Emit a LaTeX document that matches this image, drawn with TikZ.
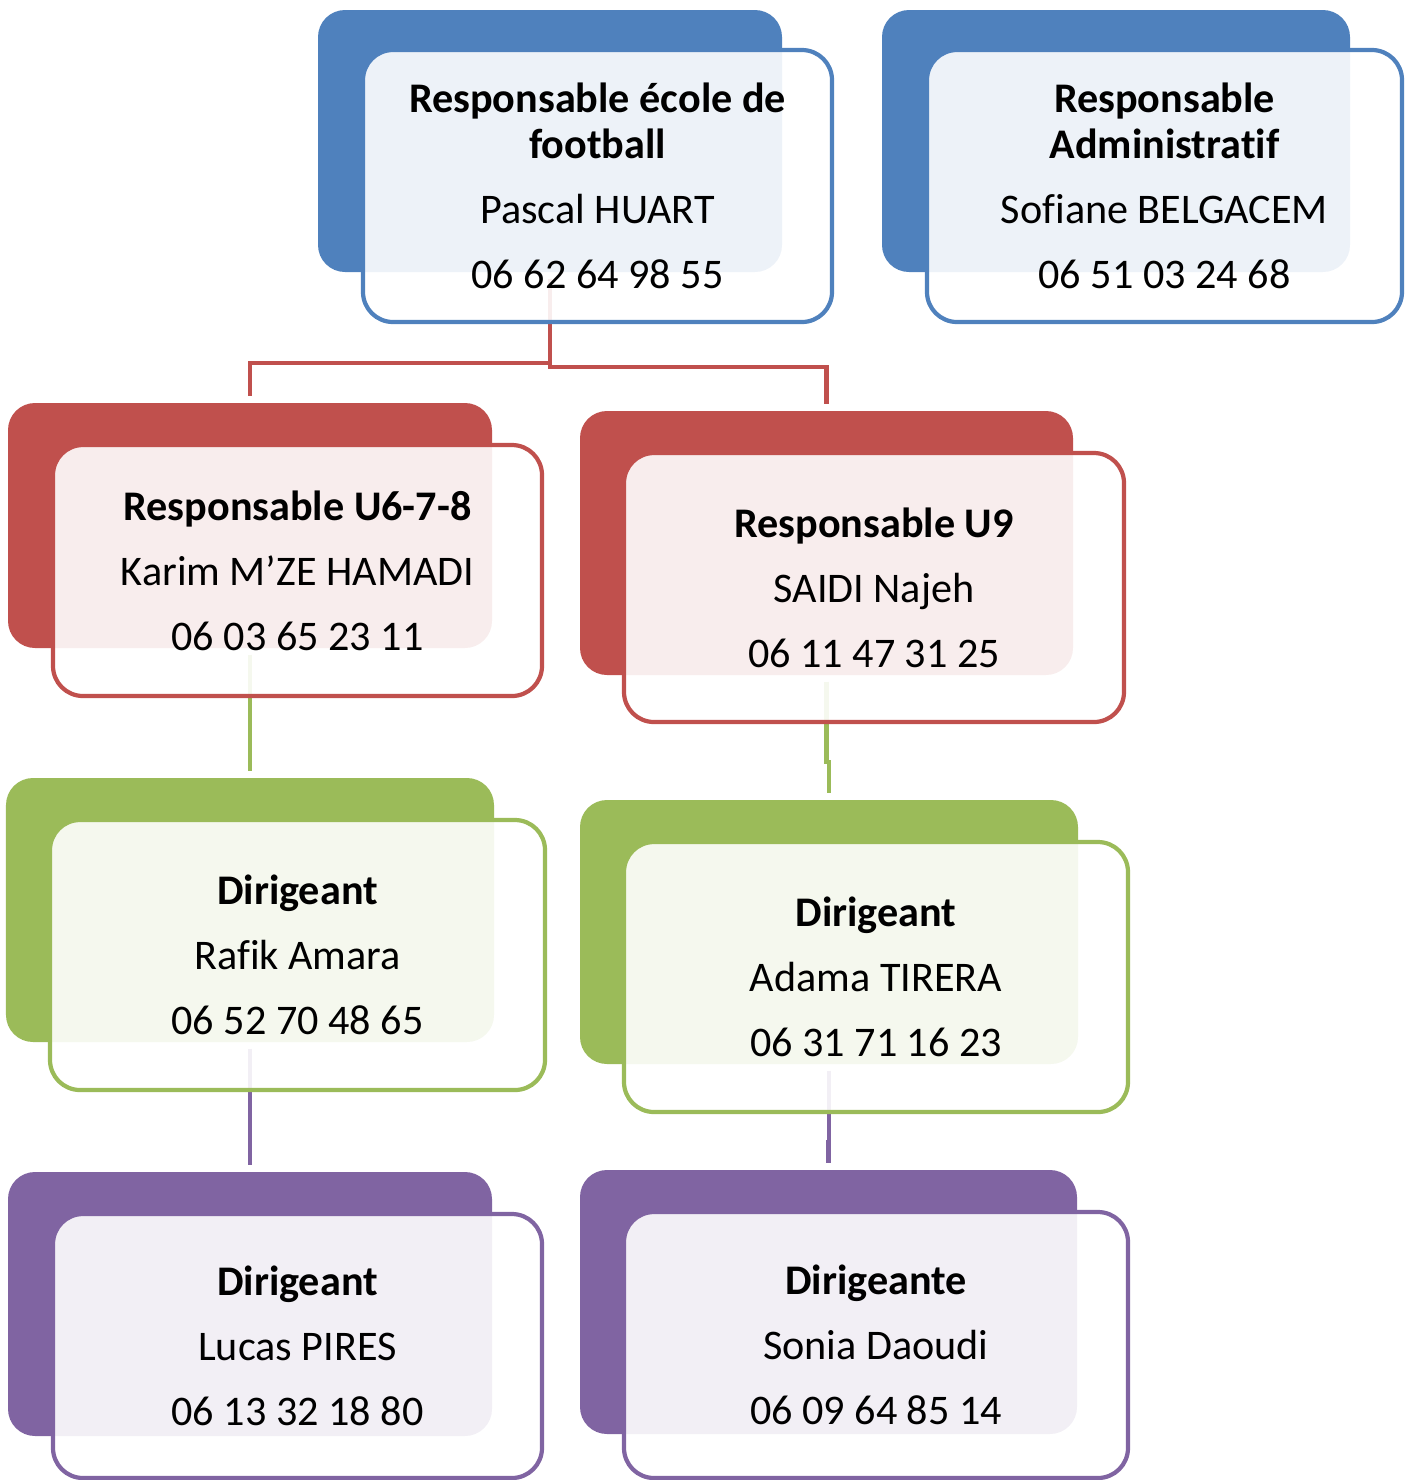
\documentclass[tikz,border=0pt]{standalone}
\usepackage{fontspec}
\setmainfont[Ligatures={TeX,CommonOff}]{Carlito}
\usetikzlibrary{calc}
\definecolor{blueA}{HTML}{4F81BD}
\definecolor{redA}{HTML}{C0504D}
\definecolor{greenA}{HTML}{9BBB59}
\definecolor{purpleA}{HTML}{8064A2}
\pgfdeclarelayer{bg}
\pgfsetlayers{bg,main}
\tikzset{
  backbox/.style={rectangle, rounded corners=0.27cm, fill=#1, inner sep=0pt},
  frontbox/.style={rectangle, rounded corners=0.3cm, draw=#1, line width=1.2pt,
    fill=white, fill opacity=0.9, text opacity=1, align=center, inner sep=0pt,
    font=\fontsize{12}{13}\selectfont},
  link/.style={draw=#1, line width=1.2pt, shorten <=0.06cm, shorten >=0.06cm}
}
\newcommand{\gap}{\\[5.5pt]}
\begin{document}
\begin{tikzpicture}
    \useasboundingbox (0,0) rectangle (14.11,-14.80);

    % back boxes
    \node[backbox=blueA, minimum width=4.64cm, minimum height=2.62cm] (ecoleB) at (5.50,-1.41) {};
    \node[backbox=blueA, minimum width=4.68cm, minimum height=2.62cm] (adminB) at (11.16,-1.41) {};
    \node[backbox=redA, minimum width=4.84cm, minimum height=2.45cm] (u678B) at (2.50,-5.255) {};
    \node[backbox=redA, minimum width=4.93cm, minimum height=2.64cm] (u9B) at (8.265,-5.43) {};
    \node[backbox=greenA, minimum width=4.88cm, minimum height=2.64cm] (rafikB) at (2.50,-9.10) {};
    \node[backbox=greenA, minimum width=4.98cm, minimum height=2.64cm] (adamaB) at (8.29,-9.32) {};
    \node[backbox=purpleA, minimum width=4.84cm, minimum height=2.64cm] (lucasB) at (2.50,-13.04) {};
    \node[backbox=purpleA, minimum width=4.97cm, minimum height=2.64cm] (soniaB) at (8.285,-13.02) {};

    % front boxes with the texts
    \node[frontbox=blueA, minimum width=4.69cm, minimum height=2.72cm] (ecole) at (5.975,-1.86)
      {\textbf{Responsable école de}\\\textbf{football}\gap Pascal HUART\gap 06 62 64 98 55};
    \node[frontbox=blueA, minimum width=4.75cm, minimum height=2.72cm] (admin) at (11.645,-1.86)
      {\textbf{Responsable}\\\textbf{Administratif}\gap Sofiane BELGACEM\gap 06 51 03 24 68};
    \node[frontbox=redA, minimum width=4.89cm, minimum height=2.51cm] (u678) at (2.975,-5.705)
      {\textbf{Responsable U6-7-8}\gap Karim M’ZE HAMADI\gap 06 03 65 23 11};
    \node[frontbox=redA, minimum width=5.00cm, minimum height=2.69cm] (u9) at (8.74,-5.875)
      {\textbf{Responsable U9}\gap SAIDI Najeh\gap 06 11 47 31 25};
    \node[frontbox=greenA, minimum width=4.95cm, minimum height=2.70cm] (rafik) at (2.975,-9.55)
      {\textbf{Dirigeant}\gap Rafik Amara\gap 06 52 70 48 65};
    \node[frontbox=greenA, minimum width=5.04cm, minimum height=2.70cm] (adama) at (8.76,-9.77)
      {\textbf{Dirigeant}\gap Adama TIRERA\gap 06 31 71 16 23};
    \node[frontbox=purpleA, minimum width=4.89cm, minimum height=2.64cm] (lucas) at (2.975,-13.46)
      {\textbf{Dirigeant}\gap Lucas PIRES\gap 06 13 32 18 80};
    \node[frontbox=purpleA, minimum width=5.04cm, minimum height=2.66cm] (sonia) at (8.76,-13.45)
      {\textbf{Dirigeante}\gap Sonia Daoudi\gap 06 09 64 85 14};

    % elbow heights, halfway between a box and the next one
    \coordinate (m1) at ($(ecole.south)!.5!(u678B.north)$);
    \coordinate (m2) at ($(ecole.south)!.5!(u9B.north)$);
    \coordinate (m3) at ($(u678.south)!.5!(rafikB.north)$);
    \coordinate (m4) at ($(u9.south)!.5!(adamaB.north)$);
    \coordinate (m5) at ($(rafik.south)!.5!(lucasB.north)$);
    \coordinate (m6) at ($(adama.south)!.5!(soniaB.north)$);

    % connectors, behind the boxes
    \begin{pgfonlayer}{bg}
    \draw[link=redA] (ecoleB.south) -- (ecoleB.south |- m1) -| (u678B.north);
    \draw[link=redA] (ecoleB.south) -- (ecoleB.south |- m2) -| (u9B.north);
    \draw[link=greenA] (u678B.south) -- (u678B.south |- m3) -| (rafikB.north);
    \draw[link=greenA] (u9B.south) -- (u9B.south |- m4) -| (adamaB.north);
    \draw[link=purpleA] (rafikB.south) -- (rafikB.south |- m5) -| (lucasB.north);
    \draw[link=purpleA] (adamaB.south) -- (adamaB.south |- m6) -| (soniaB.north);
    \end{pgfonlayer}

\end{tikzpicture}
\end{document}
